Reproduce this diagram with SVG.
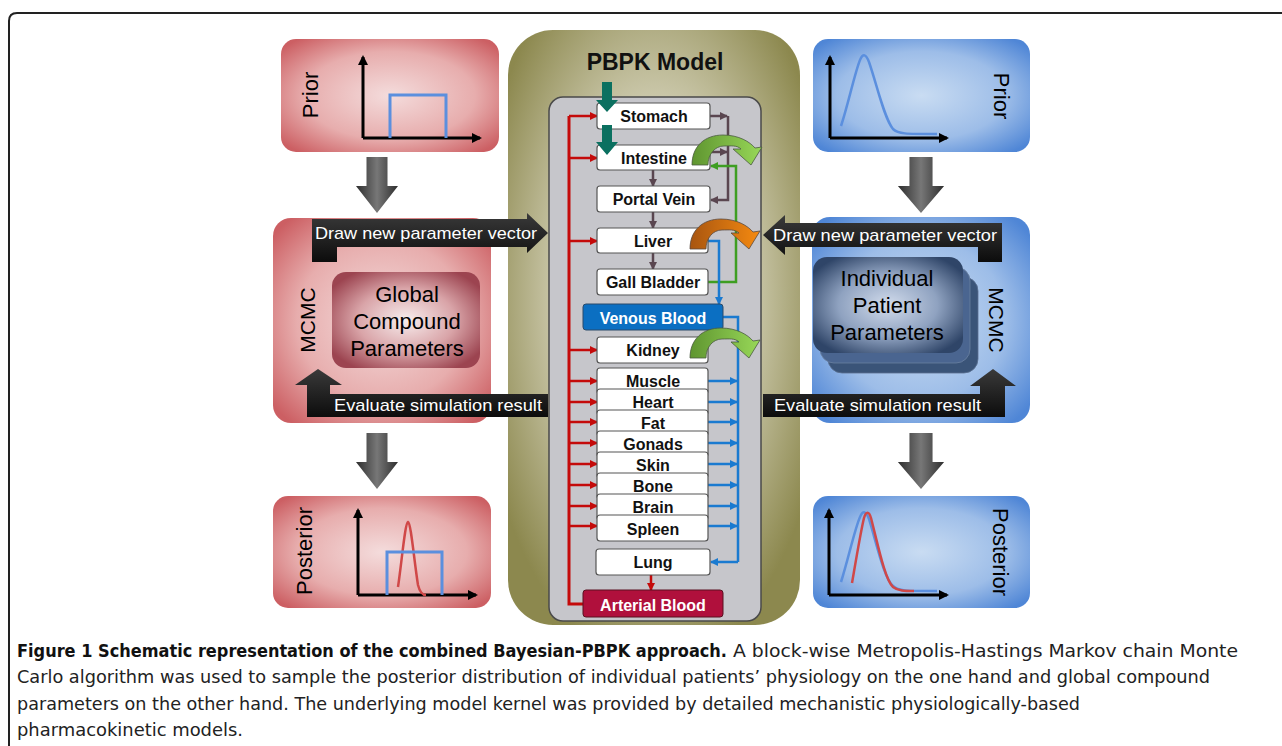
<svg xmlns="http://www.w3.org/2000/svg" width="1282" height="746" viewBox="0 0 1282 746">
<style>
.lbl{font-family:"Liberation Sans",Arial,sans-serif;fill:#000}
.org{font-family:"Liberation Sans",Arial,sans-serif;font-weight:bold;font-size:16px;fill:#111;text-anchor:middle}
.obox{fill:#fff;stroke:#555;stroke-width:1.2}
.wt{font-family:"Liberation Sans",Arial,sans-serif;font-size:17px;fill:#fff}
.cap{font-family:"DejaVu Sans Condensed","Liberation Sans Narrow","Liberation Sans",sans-serif;font-size:18px;fill:#222}
.red{stroke:#c40a0a;stroke-width:3;fill:none}
.redar{stroke:#c40a0a;stroke-width:2.5;fill:none;marker-end:url(#mRed)}
.bluar{stroke:#1a7ad0;stroke-width:2.5;fill:none;marker-end:url(#mBlue)}
.blu{stroke:#1a7ad0;stroke-width:2.5;fill:none}
.gry{stroke:#5a4650;stroke-width:2.5;fill:none;marker-end:url(#mGrey)}
.grn{stroke:#3e9e22;stroke-width:2.5;fill:none;marker-end:url(#mGreen)}
.axis{stroke:#000;stroke-width:3;fill:none;marker-end:url(#mAx)}
</style>
<defs>
<radialGradient id="gRed" cx="50%" cy="50%" r="65%"><stop offset="0" stop-color="#f4dcdc"/><stop offset="0.6" stop-color="#e7adad"/><stop offset="1" stop-color="#cc5f63"/></radialGradient>
<radialGradient id="gRedIn" cx="50%" cy="50%" r="60%"><stop offset="0" stop-color="#f7eded"/><stop offset="0.55" stop-color="#d9a4a8"/><stop offset="1" stop-color="#9c4450"/></radialGradient>
<radialGradient id="gBlue" cx="50%" cy="50%" r="65%"><stop offset="0" stop-color="#c9dcf2"/><stop offset="0.6" stop-color="#9dbde8"/><stop offset="1" stop-color="#4f86d6"/></radialGradient>
<radialGradient id="gNavy" cx="50%" cy="50%" r="60%"><stop offset="0" stop-color="#d2dcec"/><stop offset="0.55" stop-color="#8fa2c0"/><stop offset="1" stop-color="#2f4568"/></radialGradient>
<radialGradient id="gOlive" cx="50%" cy="45%" r="62%"><stop offset="0" stop-color="#e8e6d8"/><stop offset="0.55" stop-color="#c9c6a8"/><stop offset="1" stop-color="#8c884e"/></radialGradient>
<linearGradient id="gDown" x1="0" y1="0" x2="1" y2="0"><stop offset="0" stop-color="#2e2e2e"/><stop offset="0.5" stop-color="#777"/><stop offset="1" stop-color="#2e2e2e"/></linearGradient>
<linearGradient id="gBlk" x1="0" y1="0" x2="0" y2="1"><stop offset="0" stop-color="#3a3a3a"/><stop offset="1" stop-color="#0c0c0c"/></linearGradient>
<linearGradient id="gOrange" x1="0" y1="0" x2="1" y2="0"><stop offset="0" stop-color="#a85510"/><stop offset="1" stop-color="#f58a10"/></linearGradient>
<linearGradient id="gGreen" x1="0" y1="0" x2="1" y2="0"><stop offset="0" stop-color="#5f9530"/><stop offset="1" stop-color="#98d858"/></linearGradient>
<marker id="mRed" markerWidth="8" markerHeight="8" refX="7" refY="4" orient="auto" markerUnits="userSpaceOnUse"><path d="M0,0 L8,4 L0,8 Z" fill="#c40a0a"/></marker>
<marker id="mBlue" markerWidth="8" markerHeight="8" refX="7" refY="4" orient="auto" markerUnits="userSpaceOnUse"><path d="M0,0 L8,4 L0,8 Z" fill="#1a7ad0"/></marker>
<marker id="mGrey" markerWidth="8" markerHeight="8" refX="7" refY="4" orient="auto" markerUnits="userSpaceOnUse"><path d="M0,0 L8,4 L0,8 Z" fill="#5a4650"/></marker>
<marker id="mGreen" markerWidth="8" markerHeight="8" refX="7" refY="4" orient="auto" markerUnits="userSpaceOnUse"><path d="M0,0 L8,4 L0,8 Z" fill="#3e9e22"/></marker>
<marker id="mAx" markerWidth="10" markerHeight="10" refX="8" refY="5" orient="auto" markerUnits="userSpaceOnUse"><path d="M0,0 L10,5 L0,10 Z" fill="#000"/></marker>
<path id="bend" d="M0,30 C0,11 13,0 31,0 C47,0 58,7 63,13 L70,12 L59,30 L41,14 L49,14 C45,10 39,11 32,11 C23,11 16,19 16,30 Z"/>
<path id="downArrow" d="M-10.5,0 H10.5 V29 H21 L0,56 L-21,29 H-10.5 Z"/>
</defs>

<path d="M9,746 V21 Q9,13 17,13 H1282" fill="none" stroke="#222" stroke-width="2"/>

<!-- Left column -->
<g id="prior-left">
<rect x="281" y="39" width="218" height="113" rx="15" fill="url(#gRed)"/>
<text class="lbl" font-size="22" text-anchor="middle" transform="translate(318,95) rotate(-90)">Prior</text>
<polyline class="axis" points="363,138 363,57"/>
<polyline class="axis" points="363,138 480,138"/>
<polyline points="390,138 390,95 446,95 446,138" fill="none" stroke="#5b8fde" stroke-width="3"/>
</g>
<g id="arrow-left-1"><use href="#downArrow" x="377" y="157" fill="url(#gDown)"/></g>
<g id="mcmc-left">
<rect x="273" y="218" width="218" height="205" rx="18" fill="url(#gRed)"/>
<text class="lbl" font-size="21" text-anchor="middle" transform="translate(315,320) rotate(-90)">MCMC</text>
<rect x="332" y="272" width="148" height="96" rx="14" fill="url(#gRedIn)"/>
<text class="lbl" font-size="22" text-anchor="middle" x="407" y="302">Global</text>
<text class="lbl" font-size="22" text-anchor="middle" x="407" y="329">Compound</text>
<text class="lbl" font-size="22" text-anchor="middle" x="407" y="356">Parameters</text>
</g>
<g id="arrow-left-2"><use href="#downArrow" x="377" y="433" fill="url(#gDown)"/></g>
<g id="posterior-left">
<rect x="273" y="496" width="218" height="112" rx="15" fill="url(#gRed)"/>
<text class="lbl" font-size="22" text-anchor="middle" transform="translate(312,551) rotate(-90)">Posterior</text>
<polyline class="axis" points="358,595 358,510"/>
<polyline class="axis" points="358,595 476,595"/>
<path d="M398,587 C402,560 405,523 408,522 C411,523 414,560 418,585 C420,593 423,595 426,595" fill="none" stroke="#d04848" stroke-width="2.5"/>
<polyline points="387,595 387,552 442,552 442,595" fill="none" stroke="#5b8fde" stroke-width="3"/>
</g>

<!-- Center PBPK -->
<g id="pbpk">
<rect x="508" y="30" width="292" height="595" rx="45" fill="url(#gOlive)"/>
<text x="655" y="70" text-anchor="middle" font-family="Liberation Sans,Arial,sans-serif" font-weight="bold" font-size="23" fill="#111">PBPK Model</text>
<rect x="549" y="97" width="212" height="524" rx="14" fill="#c6c6cb" stroke="#4a4a4a" stroke-width="1.5"/>
</g>

<g id="draw-left">
<path d="M312,262 V219 H527 V213 L548,233 L527,253 V247 H337 V262 Z" fill="url(#gBlk)"/>
<text class="wt" x="315" y="239" textLength="222" lengthAdjust="spacingAndGlyphs">Draw new parameter vector</text>
</g>
<g id="eval-left">
<path d="M307,417 V385 H295 L318,369 L342,385 H330 V394 H548 V417 Z" fill="url(#gBlk)"/>
<text class="wt" x="334" y="411" textLength="208" lengthAdjust="spacingAndGlyphs">Evaluate simulation result</text>
</g>

<g id="connectors">
<polyline class="red" points="569,116 569,604 583,604"/>
<line class="redar" x1="569" y1="116" x2="597" y2="116"/>
<line class="redar" x1="569" y1="158" x2="597" y2="158"/>
<line class="redar" x1="569" y1="241" x2="597" y2="241"/>
<line class="redar" x1="569" y1="350" x2="597" y2="350"/>
<line class="redar" x1="569" y1="381" x2="597" y2="381"/>
<line class="redar" x1="569" y1="402" x2="597" y2="402"/>
<line class="redar" x1="569" y1="422" x2="597" y2="422"/>
<line class="redar" x1="569" y1="443" x2="597" y2="443"/>
<line class="redar" x1="569" y1="464" x2="597" y2="464"/>
<line class="redar" x1="569" y1="485" x2="597" y2="485"/>
<line class="redar" x1="569" y1="506" x2="597" y2="506"/>
<line class="redar" x1="569" y1="526" x2="597" y2="526"/>
<line class="redar" x1="651" y1="575" x2="651" y2="590"/>
<line class="gry" x1="710" y1="116" x2="727" y2="116"/>
<line class="gry" x1="710" y1="152" x2="727" y2="152"/>
<polyline class="gry" points="728,116 728,200 711,200"/>
<line class="gry" x1="653" y1="170" x2="653" y2="186"/>
<line class="gry" x1="653" y1="212" x2="653" y2="228"/>
<line class="gry" x1="653" y1="253" x2="653" y2="269"/>
<polyline class="grn" points="708,282 736,282 736,166 711,166"/>
<polyline class="bluar" points="708,241 719,241 719,304"/>
<polyline class="blu" points="723,317 738,317 738,562"/>
<line class="bluar" x1="738" y1="562" x2="711" y2="562"/>
<line class="bluar" x1="708" y1="381" x2="737" y2="381"/>
<line class="bluar" x1="708" y1="402" x2="737" y2="402"/>
<line class="bluar" x1="708" y1="422" x2="737" y2="422"/>
<line class="bluar" x1="708" y1="443" x2="737" y2="443"/>
<line class="bluar" x1="708" y1="464" x2="737" y2="464"/>
<line class="bluar" x1="708" y1="485" x2="737" y2="485"/>
<line class="bluar" x1="708" y1="506" x2="737" y2="506"/>
<line class="bluar" x1="708" y1="526" x2="737" y2="526"/>
</g>

<g id="stomach"><rect class="obox" x="597" y="103" width="113" height="26" rx="3"/><text class="org" x="654" y="122">Stomach</text></g>
<g id="intestine"><rect class="obox" x="597" y="145" width="113" height="25" rx="3"/><text class="org" x="654" y="164">Intestine</text></g>
<g id="portal-vein"><rect class="obox" x="597" y="186" width="113" height="26" rx="3"/><text class="org" x="654" y="205">Portal Vein</text></g>
<g id="liver"><rect class="obox" x="597" y="228" width="111" height="25" rx="3"/><text class="org" x="653" y="247">Liver</text></g>
<g id="gall-bladder"><rect class="obox" x="597" y="269" width="111" height="26" rx="3"/><text class="org" x="653" y="288">Gall Bladder</text></g>
<g id="venous-blood"><rect x="583" y="304" width="140" height="26" rx="3" fill="#0b6fc2" stroke="#2a4a6a" stroke-width="1"/><text class="org" x="653" y="324" style="fill:#fff">Venous Blood</text></g>
<g id="kidney"><rect class="obox" x="597" y="337" width="111" height="26" rx="3"/><text class="org" x="653" y="356">Kidney</text></g>
<g id="muscle"><rect class="obox" x="597" y="368" width="111" height="26" rx="3"/><text class="org" x="653" y="387" font-size="15">Muscle</text></g>
<g id="heart"><rect class="obox" x="597" y="389" width="111" height="26" rx="3"/><text class="org" x="653" y="408" font-size="15">Heart</text></g>
<g id="fat"><rect class="obox" x="597" y="410" width="111" height="26" rx="3"/><text class="org" x="653" y="429" font-size="15">Fat</text></g>
<g id="gonads"><rect class="obox" x="597" y="431" width="111" height="26" rx="3"/><text class="org" x="653" y="450" font-size="15">Gonads</text></g>
<g id="skin"><rect class="obox" x="597" y="452" width="111" height="26" rx="3"/><text class="org" x="653" y="471" font-size="15">Skin</text></g>
<g id="bone"><rect class="obox" x="597" y="473" width="111" height="26" rx="3"/><text class="org" x="653" y="492" font-size="15">Bone</text></g>
<g id="brain"><rect class="obox" x="597" y="494" width="111" height="26" rx="3"/><text class="org" x="653" y="513" font-size="15">Brain</text></g>
<g id="spleen"><rect class="obox" x="597" y="515" width="111" height="26" rx="3"/><text class="org" x="653" y="535">Spleen</text></g>
<g id="lung"><rect class="obox" x="596" y="549" width="114" height="26" rx="3"/><text class="org" x="653" y="568">Lung</text></g>
<g id="arterial-blood"><rect x="583" y="590" width="140" height="27" rx="3" fill="#b0103c" stroke="#5a1020" stroke-width="1"/><text class="org" x="653" y="611" style="fill:#fff">Arterial Blood</text></g>

<g id="dose-arrows">
<path d="M602,82 H612 V100 H618 L607,112 L596,100 H602 Z" fill="#0b7060"/>
<path d="M602,125 H612 V142 H618 L607,155 L596,142 H602 Z" fill="#0b7060"/>
</g>
<g id="bend-intestine"><use href="#bend" x="692" y="135" fill="url(#gGreen)" stroke="#4a5a40" stroke-width="0.8"/></g>
<g id="bend-liver"><use href="#bend" x="690" y="219" fill="url(#gOrange)" stroke="#5a4a40" stroke-width="0.8"/></g>
<g id="bend-kidney"><use href="#bend" x="690" y="328" fill="url(#gGreen)" stroke="#4a5a40" stroke-width="0.8"/></g>

<!-- Right column -->
<g id="prior-right">
<rect x="813" y="39" width="217" height="113" rx="15" fill="url(#gBlue)"/>
<text class="lbl" font-size="22" text-anchor="middle" transform="translate(994,96) rotate(90)">Prior</text>
<polyline class="axis" points="830,138 830,57"/>
<polyline class="axis" points="830,138 947,138"/>
<path d="M841,126 C848,105 855,72 860,60 C863,53 866,54 869,62 C877,85 884,118 893,129 C898,134 905,134 937,134" fill="none" stroke="#5b8fde" stroke-width="2.5"/>
</g>
<g id="arrow-right-1"><use href="#downArrow" x="921" y="157" fill="url(#gDown)" transform="translate(921,157) scale(1.1,1) translate(-921,-157)"/></g>
<g id="mcmc-right">
<rect x="812" y="217" width="218" height="206" rx="18" fill="url(#gBlue)"/>
<rect x="828" y="277" width="150" height="96" rx="14" fill="#3a5478" stroke="#5a7090" stroke-width="0.8"/>
<rect x="820" y="267" width="150" height="96" rx="14" fill="#4a6590" stroke="#6a80a0" stroke-width="0.8"/>
<rect x="813" y="257" width="150" height="96" rx="14" fill="url(#gNavy)"/>
<text class="lbl" font-size="22" text-anchor="middle" x="887" y="286">Individual</text>
<text class="lbl" font-size="22" text-anchor="middle" x="887" y="313">Patient</text>
<text class="lbl" font-size="22" text-anchor="middle" x="887" y="340">Parameters</text>
<text class="lbl" font-size="21" text-anchor="middle" transform="translate(989,320) rotate(90)">MCMC</text>
</g>
<g id="draw-right">
<path d="M1002,262 V223 H785 V215 L763,235 L785,255 V247 H978 V262 Z" fill="url(#gBlk)"/>
<text class="wt" x="773" y="241" textLength="224" lengthAdjust="spacingAndGlyphs">Draw new parameter vector</text>
</g>
<g id="eval-right">
<path d="M763,394 H980 V386 H970 L993,369 L1016,386 H1005 V417 H763 Z" fill="url(#gBlk)"/>
<text class="wt" x="774" y="411" textLength="207" lengthAdjust="spacingAndGlyphs">Evaluate simulation result</text>
</g>
<g id="arrow-right-2"><use href="#downArrow" x="921" y="433" fill="url(#gDown)" transform="translate(921,433) scale(1.1,1) translate(-921,-433)"/></g>
<g id="posterior-right">
<rect x="813" y="496" width="217" height="112" rx="15" fill="url(#gBlue)"/>
<text class="lbl" font-size="22" text-anchor="middle" transform="translate(993,552) rotate(90)">Posterior</text>
<polyline class="axis" points="829,595 829,510"/>
<polyline class="axis" points="829,595 947,595"/>
<path d="M841,582 C848,560 855,528 860,517 C863,510 866,511 869,519 C877,545 884,578 893,586 C898,591 905,591 937,591" fill="none" stroke="#5b8fde" stroke-width="2.5"/>
<path d="M852,583 C856,560 861,530 864,518 C866,511 869,511 871,518 C878,545 885,580 893,587 C898,591 905,591 914,591" fill="none" stroke="#d04848" stroke-width="2.5"/>
</g>

<!-- Caption -->
<g id="caption">
<text class="cap" x="17" y="657" font-weight="bold" textLength="710" lengthAdjust="spacingAndGlyphs" style="fill:#111">Figure 1 Schematic representation of the combined Bayesian-PBPK approach.</text>
<text class="cap" x="733" y="657" textLength="505" lengthAdjust="spacingAndGlyphs">A block-wise Metropolis-Hastings Markov chain Monte</text>
<text class="cap" x="17" y="683" textLength="1193" lengthAdjust="spacingAndGlyphs">Carlo algorithm was used to sample the posterior distribution of individual patients’ physiology on the one hand and global compound</text>
<text class="cap" x="17" y="710" textLength="1063" lengthAdjust="spacingAndGlyphs">parameters on the other hand. The underlying model kernel was provided by detailed mechanistic physiologically-based</text>
<text class="cap" x="17" y="736" textLength="226" lengthAdjust="spacingAndGlyphs">pharmacokinetic models.</text>
</g>
</svg>
